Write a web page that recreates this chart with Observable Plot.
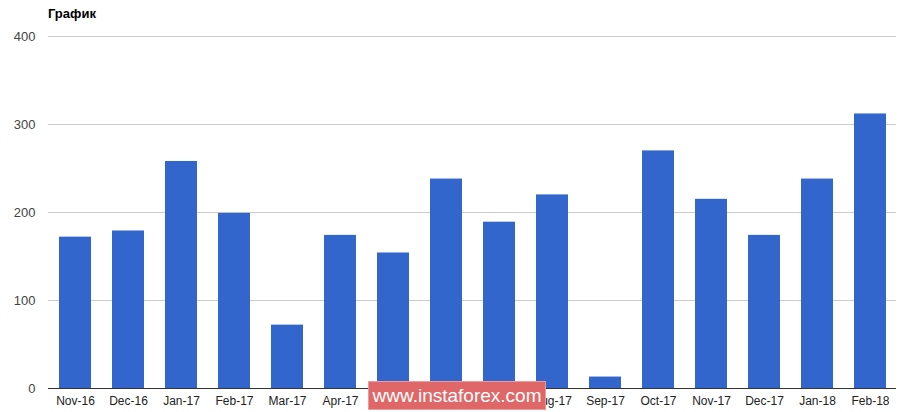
<!DOCTYPE html>
<html>
<head>
<meta charset="utf-8">
<script src="https://cdn.jsdelivr.net/npm/d3@7"></script>
<script src="https://cdn.jsdelivr.net/npm/@observablehq/plot@0.6"></script>
<style>
  html, body { margin: 0; padding: 0; background: #fff; }
  #wrap { position: relative; width: 914px; height: 412px; font-family: "Liberation Sans", Arial, sans-serif; }
  #title { position: absolute; left: 48px; top: 6px; font-size: 13px; font-weight: bold; color: #000; }
  #wm { position: absolute; left: 368px; top: 381px; width: 176px; height: 27px; background: #e06767;
        border: 1px solid #ec9a9a; color: #fff; font-size: 19px; line-height: 27px; text-align: center; }
</style>
</head>
<body>
<div id="wrap">
  <div id="chart"></div>
  <div id="title">График</div>
  <div id="wm">www.instaforex.com</div>
</div>
<script>
const months = ["Nov-16","Dec-16","Jan-17","Feb-17","Mar-17","Apr-17","May-17","Jun-17","Jul-17","Aug-17","Sep-17","Oct-17","Nov-17","Dec-17","Jan-18","Feb-18"];
const values = [172, 179, 258, 199, 72, 174, 154, 238, 189, 220, 13, 270, 215, 174, 238, 312];
const yTicks = [0, 100, 200, 300, 400];

const data = months.map((m, i) => ({month: m, value: values[i]}));

const chart = Plot.plot({
  width: 914,
  height: 412,
  marginTop: 36,
  marginBottom: 24,
  marginLeft: 48,
  marginRight: 18,
  style: {fontFamily: "'Liberation Sans', Arial, sans-serif", background: "#fff"},
  x: {domain: months, paddingInner: 0.4, paddingOuter: 0.2, label: null},
  y: {domain: [0, 400], ticks: yTicks, label: null},
  marks: [
    Plot.gridY(yTicks, {stroke: "#cccccc", strokeOpacity: 1}),
    Plot.barY(data, {x: "month", y: "value", fill: "#3366cc"}),
    Plot.ruleY([0], {stroke: "#333333", strokeWidth: 1}),
    Plot.axisY(yTicks, {tickSize: 0, tickPadding: 13, fontSize: 13, fill: "#444", label: null}),
    Plot.axisX({tickSize: 0, tickPadding: 8, fontSize: 12, fill: "#222", label: null})
  ]
});
document.getElementById("chart").appendChild(chart);
</script>
</body>
</html>
